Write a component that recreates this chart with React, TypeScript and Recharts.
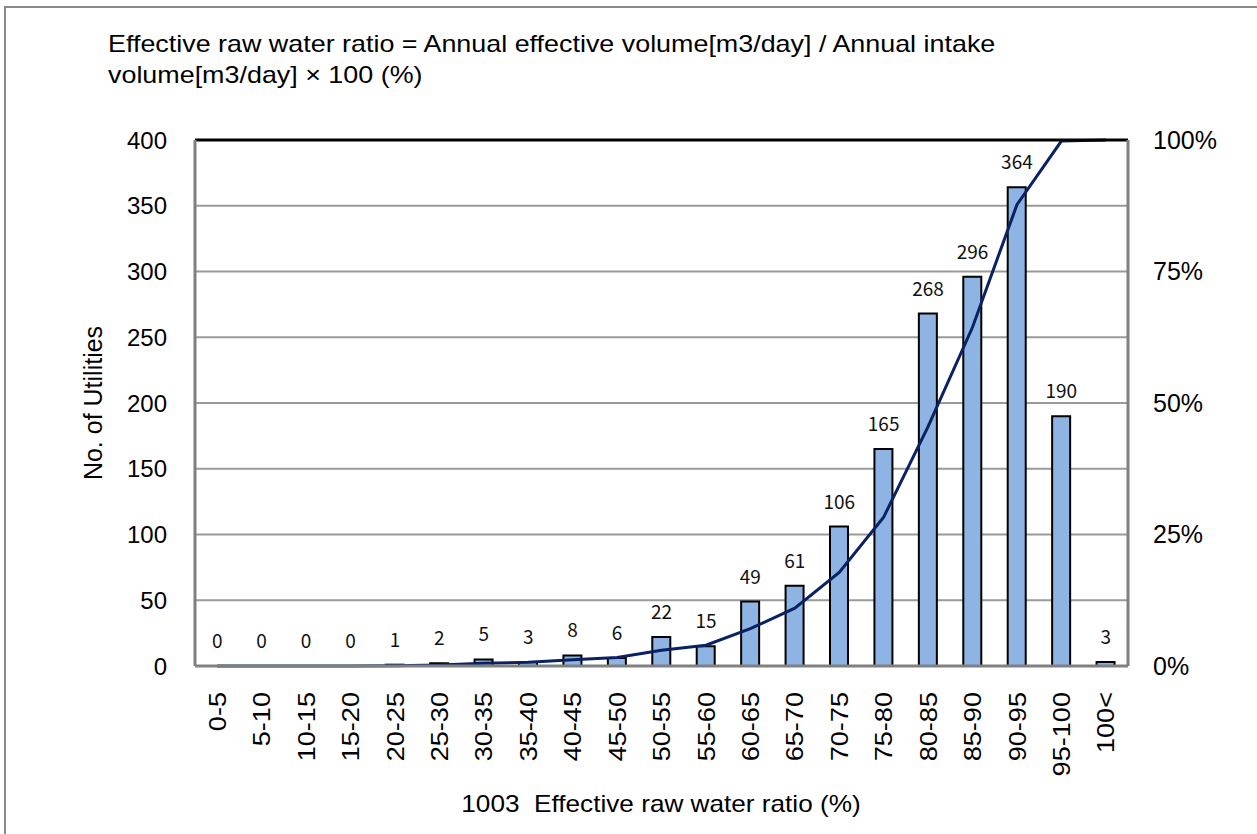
import React from 'react'
import {
  ComposedChart,
  Bar,
  Line,
  XAxis,
  YAxis,
  CartesianGrid,
  LabelList,
  ReferenceLine,
} from 'recharts'

const categories = [
  '0-5', '5-10', '10-15', '15-20', '20-25', '25-30', '30-35', '35-40', '40-45', '45-50',
  '50-55', '55-60', '60-65', '65-70', '70-75', '75-80', '80-85', '85-90', '90-95', '95-100', '100<',
]
const utilities = [0, 0, 0, 0, 1, 2, 5, 3, 8, 6, 22, 15, 49, 61, 106, 165, 268, 296, 364, 190, 3]
// cumulative share (%)
const cumulativeShare = [
  0, 0, 0, 0, 0.06, 0.19, 0.51, 0.7, 1.21, 1.6, 3.01, 3.96, 7.1, 11.0, 17.8, 28.3, 45.5, 64.4, 87.7,
  99.8, 100,
]
const leftTicks = [0, 50, 100, 150, 200, 250, 300, 350, 400]
const rightTicks = [0, 25, 50, 75, 100]

const titleLines = [
  'Effective raw water ratio = Annual effective volume[m3/day] / Annual intake',
  'volume[m3/day] \u00d7 100 (%)',
]
const xTitle = '1003  Effective raw water ratio (%)'
const yTitle = 'No. of Utilities'

const FONT = '"Liberation Sans", Arial, sans-serif'

const chartData = categories.map((cat, i) => ({
  cat,
  count: utilities[i],
  cum: cumulativeShare[i],
}))

const RotatedTick = ({ x, y, payload }: any) => (
  <g transform={`translate(${x},${y})`}>
    <text
      transform="rotate(-90) scale(1.13,1)"
      x={0}
      y={0}
      dy="0.36em"
      textAnchor="end"
      fontSize={24}
      fontFamily={FONT}
      fill="#000"
    >
      {payload.value}
    </text>
  </g>
)

export default function App() {
  return (
    <div
      style={{
        position: 'absolute',
        left: 0,
        top: 0,
        width: 1257,
        height: 834,
        overflow: 'hidden',
        background: '#fff',
        fontFamily: FONT,
      }}
    >
      {/* outer frame */}
      <div
        style={{
          position: 'absolute',
          left: 4,
          top: 6,
          width: 1300,
          height: 850,
          border: '2px solid #8a8a8a',
        }}
      />

      <div
        style={{
          position: 'absolute',
          left: 108,
          top: 28,
          fontSize: 24,
          lineHeight: '31px',
          color: '#000',
          whiteSpace: 'nowrap',
          transform: 'scaleX(1.12)',
          transformOrigin: 'left top',
        }}
      >
        {titleLines.map((t) => (
          <div key={t}>{t}</div>
        ))}
      </div>

      <div
        style={{
          position: 'absolute',
          left: 661,
          top: 790,
          fontSize: 24,
          lineHeight: '28px',
          color: '#000',
          whiteSpace: 'pre',
          transform: 'translateX(-50%) scaleX(1.09)',
        }}
      >
        {xTitle}
      </div>

      <div style={{ position: 'absolute', left: 0, top: 0 }}>
        <ComposedChart
          width={1257}
          height={834}
          data={chartData}
          margin={{ top: 140, right: 69, bottom: 19, left: 135 }}
        >
          <CartesianGrid vertical={false} stroke="#9a9a9a" strokeWidth={2} yAxisId="left" />
          <XAxis
            dataKey="cat"
            interval={0}
            tickLine={false}
            tickSize={0}
            tickMargin={26}
            height={149}
            axisLine={{ stroke: '#808080', strokeWidth: 3 }}
            tick={<RotatedTick />}
          />
          <YAxis
            yAxisId="left"
            width={60}
            domain={[0, 400]}
            ticks={leftTicks}
            tickLine={false}
            tickSize={0}
            tickMargin={28}
            axisLine={{ stroke: '#808080', strokeWidth: 3 }}
            tick={{ fontSize: 24, fontFamily: FONT, fill: '#000' }}
            label={{
              value: yTitle,
              angle: -90,
              position: 'insideLeft',
              offset: -42,
              style: { fontSize: 25, fontFamily: FONT, fill: '#000', textAnchor: 'middle' },
            }}
          />
          <YAxis
            yAxisId="right"
            orientation="right"
            width={60}
            domain={[0, 100]}
            ticks={rightTicks}
            tickFormatter={(v: number) => `${v}%`}
            tickLine={false}
            tickSize={0}
            tickMargin={25}
            axisLine={{ stroke: '#808080', strokeWidth: 3 }}
            tick={{ fontSize: 25, fontFamily: FONT, fill: '#000', textAnchor: 'start' }}
          />
          <Bar
            yAxisId="left"
            dataKey="count"
            barSize={18}
            fill="#8db4e2"
            stroke="#000"
            strokeWidth={2}
            isAnimationActive={false}
          />
          {/* invisible series carrying the count labels so zero bars get a label too */}
          <Line
            yAxisId="left"
            type="linear"
            dataKey="count"
            stroke="none"
            dot={false}
            activeDot={false}
            legendType="none"
            isAnimationActive={false}
          >
            <LabelList
              dataKey="count"
              position="top"
              offset={18}
              style={{ fontSize: 19, fontFamily: '"Noto Sans CJK JP", sans-serif', fill: '#111' }}
            />
          </Line>
          <Line
            yAxisId="right"
            type="linear"
            dataKey="cum"
            stroke="#0a2263"
            strokeWidth={3}
            dot={false}
            activeDot={false}
            isAnimationActive={false}
          />
          <ReferenceLine yAxisId="left" y={400} stroke="#000" strokeWidth={3} />
        </ComposedChart>
      </div>
    </div>
  )
}
